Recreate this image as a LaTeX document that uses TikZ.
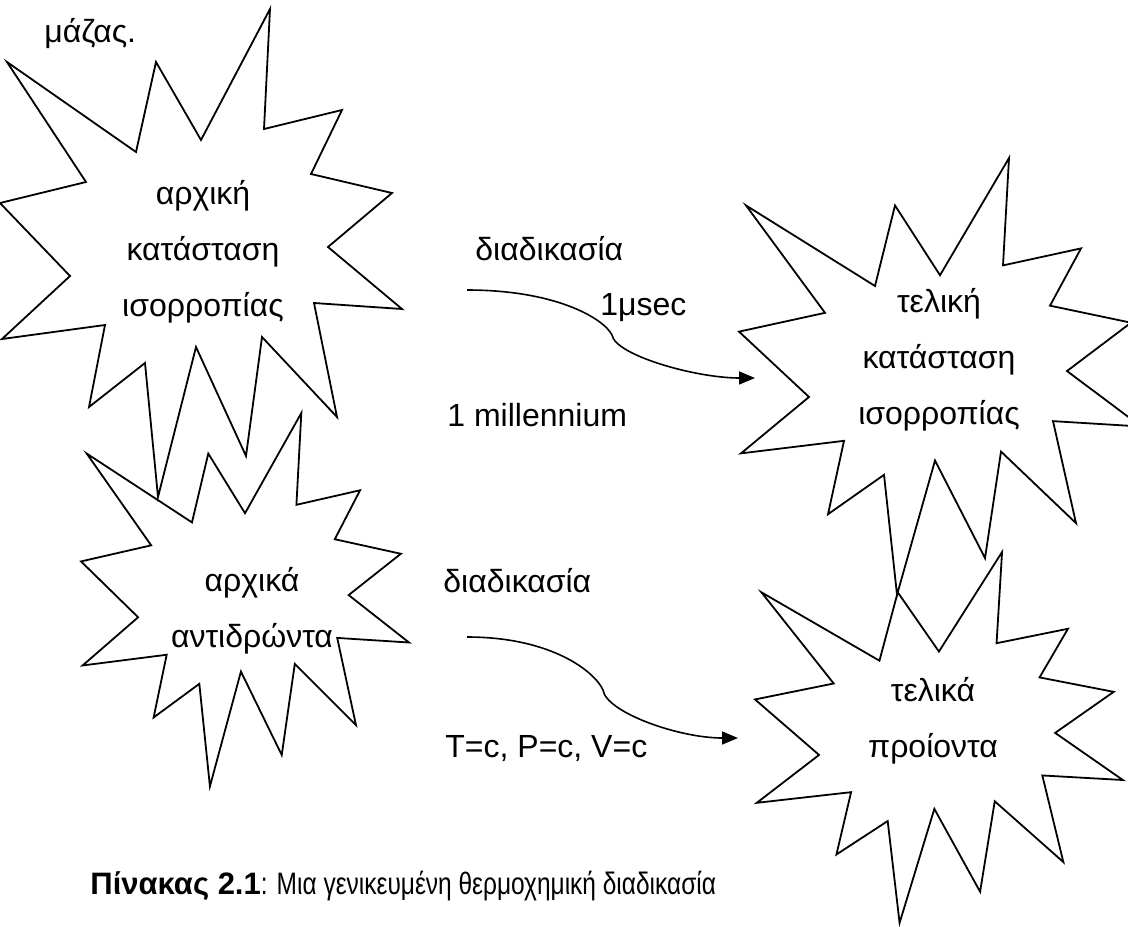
\documentclass[tikz,border=0pt]{standalone}
\usepackage{fontspec}
\setmainfont{Liberation Sans}
\usetikzlibrary{arrows.meta}
\tikzset{
    >={Triangle[length=8pt,width=6.5pt]}, % filled arrow heads
    explosion/.pic={
        \draw[line width=0.9pt] (7,53) -- (136,143) -- (156,53) -- (201,131) -- (270,0) -- (264,120)
            -- (342,101) -- (311,165) -- (392,184) -- (328,238) -- (402,300) -- (314,294)
            -- (337,408) -- (262,328) -- (246,447) -- (196,338) -- (158,488) -- (145,354)
            -- (89,398) -- (105,316) -- (2,330) -- (70,267) -- (0,194) -- (86,173) -- cycle;
    },
    lbl/.style={font=\fontsize{16}{28}\selectfont, inner sep=0pt, align=center},
    txt/.style={font=\fontsize{16}{19}\selectfont, inner sep=0pt, anchor=base west},
    flow/.style={->, line width=0.8pt},
}
\begin{document}
\begin{tikzpicture}[x=0.5pt, y=-0.5pt]
    \useasboundingbox (0,0) rectangle (1128,926);
    % the four bursts
    \pic at (0,9) {explosion};
    \pic[xscale=0.816, yscale=0.765] at (81,413) {explosion};
    \pic[yscale=0.895] at (739,158) {explosion};
    \pic[xscale=0.915, yscale=0.76] at (755,552) {explosion};
    % texts inside
    \node[lbl] (initeq) at (203,252) {αρχική\\κατάσταση\\ισορροπίας};
    \node[lbl] (initreact) at (252,611) {αρχικά\\αντιδρώντα};
    \node[lbl] (fineq) at (939,360) {τελική\\κατάσταση\\ισορροπίας};
    \node[lbl] (finprod) at (933,721) {τελικά\\προίοντα};
    % free texts
    \node[txt] (mass) at (44,42) {μάζας.};
    \node[txt] (proc1) at (475,260) {διαδικασία};
    \node[txt] (fast) at (600,315) {1μsec};
    \node[txt] (slow) at (447,426) {1 millennium};
    \node[txt] (proc2) at (443,592) {διαδικασία};
    \node[txt] (cond) at (445,757) {T=c, P=c, V=c};
    % curved arrows
    \coordinate (p1start) at (467,290);
    \coordinate (p1bend) at (612,335);
    \coordinate (p1end) at (755,378);
    \coordinate (p2start) at (467,637);
    \coordinate (p2bend) at (603,690);
    \coordinate (p2end) at (738,738);
    \draw[flow] (p1start) .. controls +(90,0) and +(-8,-16) .. (p1bend)
        .. controls +(3,20) and +(-60,0) .. (p1end);
    \draw[flow] (p2start) .. controls +(85,0) and +(-8,-18) .. (p2bend)
        .. controls +(3,22) and +(-60,0) .. (p2end);
    % caption
    \node[txt, font=\fontsize{15.5}{18}\selectfont] (caption) at (90,894)
        {\textbf{Πίνακας 2.1}\scalebox{0.79}[1]{: Μια γενικευμένη θερμοχημική διαδικασία}};
\end{tikzpicture}
\end{document}
